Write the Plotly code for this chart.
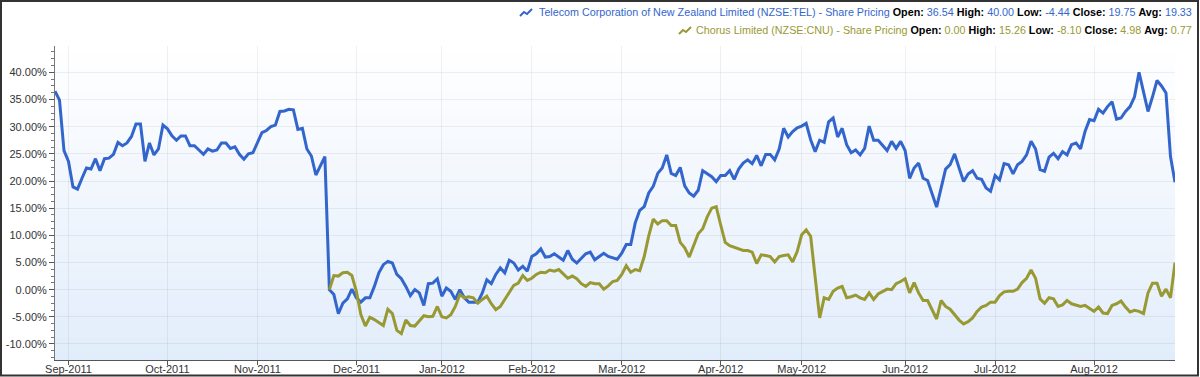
import pandas as pd
import plotly.graph_objects as go

# ---------------- data ----------------
start_date = "2011-08-29"
n_days = 250
market_holidays = ["2011-10-24", "2011-12-26", "2011-12-27", "2011-12-30",
                   "2012-01-02", "2012-01-03", "2012-02-06", "2012-04-06",
                   "2012-04-09", "2012-04-25", "2012-06-04"]

telecom_pct = [
    36.54, 34.9, 25.6, 23.6, 18.9, 18.5, 20.5, 22.4, 22.2, 24.1,
    21.9, 24.1, 24.2, 24.9, 27.1, 26.5, 27.0, 28.2, 30.5, 30.5,
    23.6, 27.0, 24.8, 25.9, 30.3, 29.6, 28.3, 27.5, 28.3, 28.3,
    26.5, 26.5, 25.7, 24.9, 25.9, 25.5, 25.7, 27.0, 27.0, 26.0,
    26.3, 24.9, 24.0, 25.0, 25.2, 27.0, 28.9, 29.3, 30.0, 30.3,
    32.8, 32.9, 33.2, 33.1, 29.5, 29.7, 25.9, 24.6, 21.1, 22.8,
    24.5, 0.0, -0.9, -4.44, -2.5, -1.7, 0.1, -1.5, -2.3, -1.5,
    -1.5, 0.6, 3.1, 4.6, 5.2, 4.9, 2.8, 2.0, 0.6, -1.1,
    0.0, -0.6, -2.9, 1.1, 1.2, 2.0, -1.2, 0.3, -0.3, -1.8,
    0.0, -1.5, -2.3, -2.3, -2.3, -0.6, 1.8, 1.1, 2.8, 4.0,
    3.1, 5.4, 4.9, 3.6, 4.3, 3.4, 6.1, 6.6, 7.5, 6.0,
    6.1, 6.6, 6.0, 5.4, 7.2, 5.6, 4.9, 5.8, 6.6, 6.9,
    5.5, 6.1, 6.7, 6.1, 5.8, 5.6, 6.7, 8.3, 8.3, 12.3,
    14.6, 15.3, 17.8, 19.0, 21.4, 22.4, 24.8, 21.4, 21.0, 22.5,
    19.1, 17.8, 17.2, 18.3, 21.9, 21.4, 20.8, 19.9, 21.0, 21.0,
    21.9, 20.3, 22.2, 23.3, 23.9, 23.2, 24.7, 22.8, 24.9, 24.9,
    23.9, 25.9, 29.7, 28.1, 29.1, 29.8, 30.1, 30.6, 27.6, 25.4,
    27.5, 27.1, 30.9, 31.6, 28.1, 29.7, 26.7, 25.2, 25.7, 24.8,
    26.0, 30.1, 27.5, 27.5, 26.5, 25.6, 27.3, 26.0, 27.3, 25.6,
    20.5, 22.4, 23.3, 20.5, 20.1, 17.8, 15.2, 18.7, 22.2, 23.0,
    25.0, 22.4, 19.9, 21.3, 21.9, 20.5, 20.3, 18.7, 18.1, 21.0,
    20.2, 23.2, 23.0, 21.3, 23.0, 23.6, 24.8, 27.3, 25.9, 22.1,
    21.8, 24.4, 25.1, 24.1, 25.4, 24.8, 26.7, 27.0, 25.9, 29.1,
    31.3, 31.1, 33.2, 32.5, 33.7, 34.6, 31.4, 31.6, 32.8, 33.7,
    35.5, 40.0, 36.2, 32.8, 35.5, 38.5, 37.5, 36.2, 24.5, 19.75,
]

chorus_start = "2011-11-23"
chorus_pct = [
    0.0, 2.6, 2.5, 3.1, 3.2, 2.6, -0.3, -4.6, -6.7,
    -5.1, -5.5, -6.1, -6.6, -3.6, -4.4, -7.5, -8.1, -5.6, -6.6,
    -6.7, -5.8, -4.8, -5.0, -4.9, -3.1, -5.0, -5.2, -4.6, -3.1,
    -0.9, -1.5, -1.3, -1.5, -2.5, -1.8, -1.2, -2.6, -3.7, -3.1,
    -1.8, -0.6, 0.8, 1.2, 2.6, 1.7, 2.1, 2.8, 3.2, 3.1,
    3.6, 3.4, 3.7, 2.9, 2.1, 2.5, 2.0, 1.1, 0.6, 1.3,
    1.1, 1.1, 0.1, 0.7, 1.5, 1.7, 2.8, 4.4, 3.2, 3.7,
    3.5, 6.1, 9.9, 13.0, 12.1, 12.7, 12.7, 11.8, 11.8, 8.7,
    7.7, 6.0, 8.3, 10.3, 11.2, 13.4, 15.0, 15.26, 11.9, 8.7,
    8.1, 7.8, 7.5, 7.2, 7.2, 6.9, 4.8, 6.4, 6.3, 6.1,
    5.1, 6.1, 6.3, 6.4, 5.1, 7.0, 10.1, 11.0, 9.8, 2.5,
    -5.2, -1.5, -1.8, -0.3, 0.3, 0.6, -1.5, -1.3, -1.0, -1.5,
    -1.8, -0.6, -1.8, -0.8, -0.4, 0.1, 0.0, 1.1, 1.5, 2.0,
    -0.6, 1.3, -0.6, -2.0, -2.0, -3.6, -5.4, -2.0, -3.1, -3.6,
    -4.6, -5.6, -6.3, -5.9, -5.2, -4.0, -3.2, -2.9, -2.3, -2.3,
    -1.1, -0.4, -0.3, -0.3, 0.1, 1.3, 2.1, 3.6, 2.1, -1.7,
    -2.5, -1.5, -1.7, -3.1, -2.8, -2.0, -2.6, -2.9, -3.1, -2.9,
    -3.4, -4.0, -3.2, -4.3, -4.4, -2.9, -2.6, -2.1, -3.2, -4.1,
    -3.8, -4.0, -4.4, -0.6, 1.2, 1.2, -1.2, 0.1, -1.5, 4.98,
]

series_names = ["Telecom Corporation of New Zealand Limited (NZSE:TEL) - Share Pricing",
                "Chorus Limited (NZSE:CNU) - Share Pricing"]
series_colors = ["#3366CC", "#999933"]
stat_labels = ["Open", "High", "Low", "Close", "Avg"]
telecom_stats = ["36.54", "40.00", "-4.44", "19.75", "19.33"]
chorus_stats = ["0.00", "15.26", "-8.10", "4.98", "0.77"]

y_ticks = [-10, -5, 0, 5, 10, 15, 20, 25, 30, 35, 40]

# ---------------- build ----------------
dates = pd.bdate_range(start_date, periods=n_days, freq="C", holidays=market_holidays)
x_all = [d.strftime("%Y-%m-%d") for d in dates]
c0 = x_all.index(chorus_start)
x_chorus = x_all[c0:c0 + len(chorus_pct)]

# first trading day of each month
month_ticks, month_text = [], []
prev = None
for d in dates:
    key = (d.year, d.month)
    if key != prev:
        if d.day <= 7:
            month_ticks.append(d.strftime("%Y-%m-%d"))
            month_text.append(d.strftime("%b-%Y"))
        prev = key

FONT = "Liberation Sans, Arial, sans-serif"

fig = go.Figure()
fig.add_trace(go.Scatter(x=x_all, y=telecom_pct, mode="lines", name=series_names[0],
                         line=dict(color=series_colors[0], width=3)))
fig.add_trace(go.Scatter(x=x_chorus, y=chorus_pct, mode="lines", name=series_names[1],
                         line=dict(color=series_colors[1], width=3)))

W, H = 1200, 377
ml, mr, mt, mb = 55, 25, 46, 17
pw, ph = W - ml - mr, H - mt - mb

def px_x(p):
    return (p - ml) / pw

def px_y(p):
    return (H - mb - p) / ph

shapes = []
nb = 40
top_rgb = (255, 255, 255)
bot_rgb = (226, 237, 251)
for k in range(nb):
    t = (k + 0.5) / nb
    r = round(bot_rgb[0] + (top_rgb[0] - bot_rgb[0]) * t)
    g = round(bot_rgb[1] + (top_rgb[1] - bot_rgb[1]) * t)
    b = round(bot_rgb[2] + (top_rgb[2] - bot_rgb[2]) * t)
    shapes.append(dict(type="rect", xref="paper", yref="paper", x0=0, x1=1,
                       y0=k / nb, y1=(k + 1) / nb + 0.002, line=dict(width=0),
                       fillcolor=f"rgb({r},{g},{b})", layer="below"))
# outer frame
shapes.append(dict(type="rect", xref="paper", yref="paper",
                   x0=px_x(1), x1=px_x(1198), y0=px_y(375.5), y1=px_y(1),
                   line=dict(color="#333333", width=2), fillcolor="rgba(0,0,0,0)",
                   layer="above"))

# little line-chart icons before each legend entry
def icon(x_left, y_mid, color):
    pts = [(x_left, y_mid + 4), (x_left + 4, y_mid), (x_left + 7, y_mid + 2),
           (x_left + 12, y_mid - 3)]
    path = "M " + " L ".join(f"{px_x(a):.5f},{px_y(b):.5f}" for a, b in pts)
    return dict(type="path", xref="paper", yref="paper", path=path,
                line=dict(color=color, width=2), layer="above")

shapes.append(icon(520, 12, series_colors[0]))
shapes.append(icon(679, 30, series_colors[1]))

def legend_line(name, color, stats):
    parts = [f'<span style="color:{color}">{name}</span>']
    for lab, val in zip(stat_labels, stats):
        parts.append(f'<b>{lab}:</b> <span style="color:{color}">{val}</span>')
    return " ".join(parts)

LEG_SIZE = 10.75
annotations = [
    dict(xref="paper", yref="paper", x=px_x(1194), y=px_y(12), xanchor="right",
         yanchor="middle", showarrow=False,
         text=legend_line(series_names[0], series_colors[0], telecom_stats),
         font=dict(family=FONT, size=LEG_SIZE, color="#000000")),
    dict(xref="paper", yref="paper", x=px_x(1194), y=px_y(30), xanchor="right",
         yanchor="middle", showarrow=False,
         text=legend_line(series_names[1], series_colors[1], chorus_stats),
         font=dict(family=FONT, size=LEG_SIZE, color="#000000")),
]

fig.update_layout(
    width=W, height=H,
    margin=dict(l=ml, r=mr, t=mt, b=mb, pad=0),
    paper_bgcolor="white", plot_bgcolor="white",
    showlegend=False,
    font=dict(family=FONT, size=11, color="#333333"),
    shapes=shapes, annotations=annotations,
    xaxis=dict(type="category", range=[0, n_days - 1], tickmode="array",
               tickvals=month_ticks, ticktext=month_text,
               showgrid=True, gridcolor="rgba(0,0,0,0.06)", gridwidth=1,
               showline=True, linecolor="#555555", linewidth=1,
               ticks="outside", ticklen=4, tickcolor="#555555",
               ticklabelstandoff=-5,
               tickfont=dict(family=FONT, size=11, color="#333333"),
               zeroline=False, automargin=False, fixedrange=True),
    yaxis=dict(range=[-12.95, 44.85], tickmode="array", tickvals=y_ticks,
               ticktext=[f"{v:.2f}%" for v in y_ticks],
               showgrid=True, gridcolor="rgba(0,0,0,0.06)", gridwidth=1,
               showline=True, linecolor="#777777", linewidth=1,
               ticks="outside", ticklen=5, tickcolor="#555555",
               minor=dict(dtick=1.25, tick0=0, ticks="outside", ticklen=3,
                          tickcolor="#777777", showgrid=False),
               tickfont=dict(family=FONT, size=11, color="#333333"),
               zeroline=False, automargin=False, fixedrange=True),
)

fig.write_html("out.html", config={"displayModeBar": False},
               post_script="document.body.style.margin='0px';document.body.style.overflow='hidden';")
